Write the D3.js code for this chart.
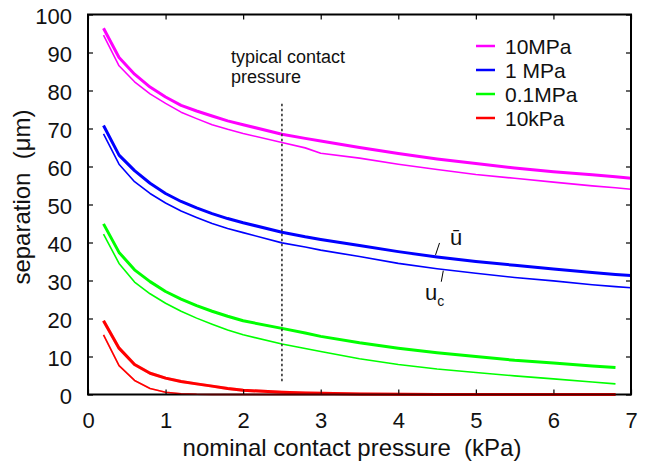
<!DOCTYPE html>
<html>
<head>
<meta charset="utf-8">
<script src="https://cdn.jsdelivr.net/npm/d3@7"></script>
<style>
  html, body { margin: 0; padding: 0; background: #fff; }
  svg { display: block; font-family: "Liberation Sans", Arial, Helvetica, sans-serif; }
  text { white-space: pre; }
</style>
</head>
<body>
<svg id="chart" width="663" height="461"></svg>
<script>
// Nominal contact pressure (kPa) at which separations were computed
const pressure = [0.2, 0.4, 0.6, 0.8, 1.0, 1.2, 1.4, 1.6, 1.8, 2.0, 2.5, 2.8, 3.0,
                  3.5, 4.0, 4.5, 5.0, 5.5, 6.0, 6.5, 6.8, 7.0];

// Average separation ū (μm), one array per elastic modulus
const meanSep10MPa  = [96.4, 88.7, 84.3, 80.9, 78.3, 76.1, 74.6, 73.3, 72.0, 71.0, 68.5, 67.4, 66.7,
                       65.0, 63.4, 62.0, 60.8, 59.6, 58.6, 57.8, 57.3, 56.9];
const meanSep1MPa   = [70.8, 63.0, 58.9, 55.6, 52.9, 50.8, 49.1, 47.6, 46.3, 45.2, 42.7, 41.5, 40.8,
                       39.2, 37.6, 36.2, 35.0, 34.0, 33.0, 32.1, 31.6, 31.3];
const meanSep01MPa  = [44.9, 37.4, 32.8, 29.7, 27.1, 25.1, 23.4, 21.9, 20.6, 19.4, 17.4, 16.2, 15.3,
                       13.6, 12.2, 11.0, 10.0, 9.0, 8.3, 7.5, 7.1, null];
const meanSep10kPa  = [19.4, 12.2, 7.9, 5.6, 4.3, 3.4, 2.8, 2.2, 1.6, 1.1, 0.6, 0.4, 0.3,
                       0.15, 0.05, 0, 0, 0, 0, 0, 0, null];

// Critical separation u_c (μm)
const critSep10MPa  = [94.6, 86.5, 82.3, 79.1, 76.6, 74.3, 72.6, 71.0, 69.8, 68.7, 66.3, 64.9, 63.5,
                       62.2, 60.6, 59.2, 57.9, 56.9, 55.9, 54.9, 54.4, 54.0];
const critSep1MPa   = [68.6, 60.6, 56.0, 52.9, 50.4, 48.3, 46.6, 45.0, 43.7, 42.6, 39.9, 38.8, 38.0,
                       36.3, 34.5, 33.1, 31.9, 30.8, 29.9, 28.9, 28.4, 28.1];
const critSep01MPa  = [42.2, 34.5, 29.6, 26.5, 24.0, 21.9, 20.1, 18.5, 17.0, 15.7, 13.3, 12.1, 11.3,
                       9.4, 7.9, 6.7, 5.8, 4.9, 4.1, 3.3, 2.8, null];
const critSep10kPa  = [15.7, 7.6, 3.7, 1.6, 0.6, 0.2, 0.05, 0, 0, 0, 0, 0, 0,
                       0, 0, 0, 0, 0, 0, 0, 0, null];

const legendLabels = ["10MPa", "1 MPa", "0.1MPa", "10kPa"];
const seriesColors = ["#ff00ff", "#0000ff", "#00ff00", "#ff0000"];
const meanSeries = [meanSep10MPa, meanSep1MPa, meanSep01MPa, meanSep10kPa];
const critSeries = [critSep10MPa, critSep1MPa, critSep01MPa, critSep10kPa];

const xTicks = [0, 1, 2, 3, 4, 5, 6, 7];
const yTicks = [0, 10, 20, 30, 40, 50, 60, 70, 80, 90, 100];

const typicalPressure = 2.5;          // kPa, marked by the dotted line
const typicalRange = [3.5, 76.5];     // μm span of the dotted marker

const svg = d3.select("#chart");
const margin = { left: 88, right: 32, top: 14.5, bottom: 66.5 };
const W = 663, H = 461;

const x = d3.scaleLinear().domain([0, 7]).range([margin.left, W - margin.right]);
const y = d3.scaleLinear().domain([0, 100]).range([H - margin.bottom, margin.top]);

const line = d3.line()
  .defined(d => d[1] != null)
  .x(d => x(d[0]))
  .y(d => y(d[1]));

const pts = arr => pressure.map((p, i) => [p, arr[i]]);

// curves: thin = u_c, thick = ū
const curves = svg.append("g");
critSeries.forEach((arr, i) => {
  curves.append("path")
    .attr("d", line(pts(arr)))
    .attr("fill", "none")
    .attr("stroke", seriesColors[i])
    .attr("stroke-width", 1.6)
    .attr("stroke-linejoin", "round");
});
meanSeries.forEach((arr, i) => {
  curves.append("path")
    .attr("d", line(pts(arr)))
    .attr("fill", "none")
    .attr("stroke", seriesColors[i])
    .attr("stroke-width", 3)
    .attr("stroke-linejoin", "round");
});

// typical contact pressure marker
svg.append("line")
  .attr("x1", x(typicalPressure)).attr("x2", x(typicalPressure))
  .attr("y1", y(typicalRange[0])).attr("y2", y(typicalRange[1]))
  .attr("stroke", "#333").attr("stroke-width", 1.6)
  .attr("stroke-dasharray", "2.5,2.5");

const note = svg.append("text")
  .attr("x", 231).attr("y", 63)
  .attr("font-size", 18).attr("fill", "#111");
note.append("tspan").attr("x", 231).text("typical contact");
note.append("tspan").attr("x", 231).attr("dy", 20).text("pressure");

// axes with inward ticks on all four sides
const fontSize = 22;
const gx = svg.append("g").attr("transform", `translate(0,${y(0)})`)
  .call(d3.axisBottom(x).tickValues(xTicks).tickSize(-5).tickPadding(18).tickFormat(d3.format("d")));
const gxTop = svg.append("g").attr("transform", `translate(0,${y(100)})`)
  .call(d3.axisTop(x).tickValues(xTicks).tickSize(-5).tickFormat(""));
const gy = svg.append("g").attr("transform", `translate(${x(0)},0)`)
  .call(d3.axisLeft(y).tickValues(yTicks).tickSize(-5).tickPadding(16).tickFormat(d3.format("d")));
const gyRight = svg.append("g").attr("transform", `translate(${x(7)},0)`)
  .call(d3.axisRight(y).tickValues(yTicks).tickSize(-5).tickFormat(""));

[gx, gxTop, gy, gyRight].forEach(g => {
  g.select(".domain").remove();
  g.selectAll(".tick line").attr("stroke", "#000").attr("stroke-width", 1.2);
  g.selectAll("text").attr("font-size", fontSize).attr("fill", "#111")
    .attr("font-family", "'Liberation Sans', Arial, sans-serif");
});
gy.selectAll("text").attr("dy", "0.42em");
gx.selectAll("text").attr("dy", "0.71em");

// frame
svg.append("rect")
  .attr("x", x(0)).attr("y", y(100))
  .attr("width", x(7) - x(0)).attr("height", y(0) - y(100))
  .attr("fill", "none").attr("stroke", "#000").attr("stroke-width", 2);

// the 10kPa curves tint the bottom axis where they lie on it
const overlay = svg.append("g").attr("opacity", 0.3);
[critSep10kPa, meanSep10kPa].forEach((arr, k) => {
  overlay.append("path")
    .attr("d", line(pts(arr)))
    .attr("fill", "none")
    .attr("stroke", seriesColors[3])
    .attr("stroke-width", k ? 3 : 1.6);
});

// axis titles
const titleSize = 24;
svg.append("text")
  .attr("x", 352).attr("y", 456)
  .attr("text-anchor", "middle").attr("font-size", titleSize).attr("fill", "#111")
  .text("nominal contact pressure  (kPa)");
svg.append("text")
  .attr("transform", "translate(30,197) rotate(-90)")
  .attr("text-anchor", "middle").attr("font-size", titleSize).attr("fill", "#111")
  .text("separation  (μm)");

// legend
const legend = svg.append("g");
legendLabels.forEach((lab, i) => {
  const ly = 46 + i * 24;
  legend.append("line")
    .attr("x1", 476).attr("x2", 495).attr("y1", ly).attr("y2", ly)
    .attr("stroke", seriesColors[i]).attr("stroke-width", 2.5);
  legend.append("text")
    .attr("x", 505).attr("y", ly + 7.5)
    .attr("font-size", 21).attr("fill", "#111")
    .text(lab);
});

// curve identifiers on the 1 MPa pair
const meanAt = 4.48, critAt = 4.58;
const iMean = meanSep1MPa[pressure.indexOf(4.5)];
const iCrit = critSep1MPa[pressure.indexOf(4.5)];
svg.append("line")
  .attr("x1", x(meanAt)).attr("y1", y(iMean) - 2)
  .attr("x2", x(meanAt) + 4).attr("y2", y(iMean) - 14)
  .attr("stroke", "#000").attr("stroke-width", 1);
svg.append("text")
  .attr("x", 450).attr("y", 245)
  .attr("font-size", 22).attr("fill", "#111")
  .text("ū");
svg.append("line")
  .attr("x1", x(critAt)).attr("y1", y(iCrit) + 2)
  .attr("x2", x(critAt) - 2).attr("y2", y(iCrit) + 13)
  .attr("stroke", "#000").attr("stroke-width", 1);
const uc = svg.append("text")
  .attr("x", 425).attr("y", 300)
  .attr("font-size", 22).attr("fill", "#111");
uc.append("tspan").text("u");
uc.append("tspan").attr("font-size", 14).attr("dy", 6).text("c");
</script>
</body>
</html>
